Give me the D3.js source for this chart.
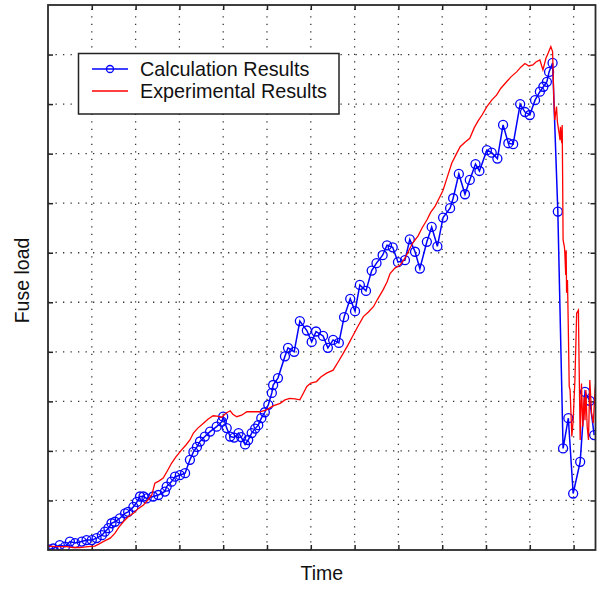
<!DOCTYPE html>
<html>
<head>
<meta charset="utf-8">
<script src="https://cdn.jsdelivr.net/npm/d3@7/dist/d3.min.js"></script>
<style>
  html, body { margin: 0; padding: 0; background: #fff; }
  svg { display: block; }
  text { font-family: "Liberation Sans", Arial, Helvetica, sans-serif; fill: #111; }
</style>
</head>
<body>
<svg id="chart" width="597" height="590"></svg>
<script>
// ---- data (arbitrary units; grid every 10) ----
const calcTime = [0.1,1.2,2.7,3.9,5.0,6.2,7.7,8.8,10.0,11.1,12.3,13.0,13.8,14.5,15.3,16.4,17.6,18.3,19.5,20.3,21.0,21.8,22.5,24.0,25.2,26.7,27.1,28.2,29.0,30.1,31.3,32.4,33.2,34.0,34.7,35.8,37.0,38.5,39.7,40.0,40.8,41.6,42.5,43.5,44.1,45.0,45.7,46.5,47.3,48.0,48.7,49.5,50.3,51.1,51.4,52.5,54.1,54.8,56.2,57.5,59.1,60.2,61.2,62.8,63.9,65.1,66.4,67.6,69.0,70.1,71.2,72.6,73.9,75.0,76.4,77.4,78.7,79.9,81.5,82.6,83.8,84.9,86.5,87.6,88.9,90.2,91.8,92.5,93.8,95.2,96.3,97.6,98.5,100.2,101.3,102.6,103.9,105.1,106.2,107.8,108.9,110.0,111.2,112.3,113.1,113.9,114.4,115.2,116.4,117.6,118.8,119.9,121.5,122.6,123.7,124.7];
const calcLoad = [0.1,0.3,1.0,0.7,1.7,1.4,1.7,2.0,2.0,2.4,3.0,3.7,4.4,5.4,5.7,6.4,7.4,7.7,8.7,9.7,10.8,10.8,10.4,10.8,11.1,11.8,12.8,13.8,14.8,15.1,15.5,18.2,19.8,20.8,21.9,22.9,23.9,24.9,25.9,26.9,24.6,22.9,22.7,23.6,22.8,21.3,22.2,23.6,24.5,25.2,26.6,27.8,29.3,31.7,33.3,34.7,39.1,40.8,40.0,46.2,44.3,42.0,44.1,43.2,40.8,42.4,41.8,47.0,50.7,48.2,53.5,52.3,56.4,57.9,59.5,61.5,61.1,58.1,58.5,62.7,60.2,56.8,62.2,65.2,61.3,67.1,69.0,71.0,75.9,71.8,74.7,77.9,76.5,80.7,80.2,79.0,85.8,82.1,81.9,90.0,88.4,87.8,90.8,92.5,93.5,94.5,96.5,98.3,68.3,20.5,26.6,11.4,17.8,31.9,30.1,23.2];

const expTime = [0,1.8,4.3,5.7,7.3,9.1,10.7,11.6,12.6,14.2,15.3,16.2,17.2,18.3,19.5,20.5,21.8,22.8,23.7,24.4,25.3,26.3,27.2,28.2,29.2,30.5,31.5,32.4,33.2,34.2,35.5,36.5,37.7,38.6,39.7,40.6,41.6,42.2,43.1,44.2,45.4,46.8,48.4,49.9,51.4,53.0,54.1,55.2,56.4,57.5,58.2,59.1,60.0,61.3,62.3,63.6,65.1,66.2,67.4,68.5,69.7,70.8,72.0,73.1,74.3,75.3,76.5,77.4,78.1,79.2,80.4,81.5,82.4,83.3,84.5,85.4,86.5,87.4,88.4,89.3,90.2,91.1,92.2,93.1,94.1,95.2,96.3,97.3,98.2,99.1,100.2,101.3,102.4,103.4,104.7,105.7,107.0,108.0,108.9,109.8,110.7,111.4,112.3,113.0,113.7,114.2,114.8,115.2,115.5,115.7,116.1,116.3,116.7,116.9,117.0,117.3,117.4,117.5,117.6,117.9,118.0,118.2,118.3,118.4,118.6,118.8,119.0,119.2,119.6,119.9,120.3,120.7,121.1,121.2,121.5,121.8,122.1,122.4,122.6,122.8,123.1,123.4,123.7,124.1,124.5,124.9,125.3];
const expLoad = [0.8,0.7,0.7,0.5,0.5,0.7,0.8,1.2,1.7,2.4,3.4,4.6,5.7,6.7,7.4,8.3,9.1,10.1,11.1,13.5,13.9,14.5,15.9,17.5,18.8,20.2,21.2,22.2,23.6,24.6,25.6,26.4,27.1,27.0,26.8,27.6,28.1,27.4,26.9,27.2,27.9,27.9,27.9,28.3,29.1,29.6,30.3,30.6,30.5,30.3,31.5,33.0,33.7,34.0,34.9,35.7,36.3,37.9,39.7,41.4,43.4,45.2,47.1,48.0,49.1,50.7,52.5,54.1,55.8,56.9,57.5,58.9,60.5,62.0,63.4,65.0,66.6,68.2,69.4,71.0,72.6,75.1,78.1,79.7,81.4,82.3,83.1,85.2,86.6,87.8,89.5,90.8,91.8,93.2,94.5,95.5,96.5,97.5,98.2,97.7,97.9,98.5,98.9,96.9,99.3,100.3,101.6,100.6,90.8,86.8,89.5,86.4,84.1,82.7,85.4,82.1,85.8,74.7,62.6,61.2,59.9,55.5,60.5,51.9,54.5,44.4,33.0,32.3,22.9,26.2,34.3,47.8,48.4,41.0,22.2,33.6,24.9,30.9,26.2,32.3,24.9,22.2,34.3,27.6,25.6,32.3,36.3];

const xTicks = [10,20,30,40,50,60,70,80,90,100,110,120];
const yTicks = [10,20,30,40,50,60,70,80,90,100];
const seriesNames = ["Calculation Results", "Experimental Results"];
const seriesColors = ["#0000ff", "#ff0000"];
const xLabel = "Time";
const yLabel = "Fuse load";

// ---- layout ----
const L = 48, R = 595.5, T = 5, B = 550;
const svg = d3.select("#chart");
const x = d3.scaleLinear().domain([0, 125]).range([L, R]);
const y = d3.scaleLinear().domain([0, 110]).range([B, T]);

const calc = calcTime.map((t, i) => ({ t, v: calcLoad[i] }));
const exp = expTime.map((t, i) => ({ t, v: expLoad[i] }));

svg.append("defs").append("clipPath").attr("id", "clip")
  .append("rect").attr("x", L).attr("y", T).attr("width", R - L).attr("height", B - T);

// grid
const grid = svg.append("g").attr("stroke", "#333").attr("stroke-width", 1.3)
  .attr("stroke-dasharray", "1.3 6.2");
grid.selectAll(".vg").data(xTicks).join("line")
  .attr("x1", d => x(d)).attr("x2", d => x(d)).attr("y1", B).attr("y2", T);
grid.selectAll(".hg").data(yTicks).join("line")
  .attr("y1", d => y(d)).attr("y2", d => y(d)).attr("x1", L).attr("x2", R);

// axes with inward ticks on all four sides
const tickLen = 5;
const axB = svg.append("g").attr("transform", `translate(0,${B})`)
  .call(d3.axisTop(x).tickValues(xTicks).tickSize(tickLen).tickFormat(""));
const axT = svg.append("g").attr("transform", `translate(0,${T})`)
  .call(d3.axisBottom(x).tickValues(xTicks).tickSize(tickLen).tickFormat(""));
const axL = svg.append("g").attr("transform", `translate(${L},0)`)
  .call(d3.axisRight(y).tickValues(yTicks).tickSize(tickLen).tickFormat(""));
const axRt = svg.append("g").attr("transform", `translate(${R},0)`)
  .call(d3.axisLeft(y).tickValues(yTicks).tickSize(tickLen).tickFormat(""));
[axB, axT, axL, axRt].forEach(a => {
  a.select(".domain").remove();
  a.selectAll(".tick line").attr("stroke", "#222").attr("stroke-width", 1.5);
});

// data
const plot = svg.append("g").attr("clip-path", "url(#clip)");
const line = d3.line().x(d => x(d.t)).y(d => y(d.v));
plot.append("path").datum(calc).attr("d", line)
  .attr("fill", "none").attr("stroke", seriesColors[0]).attr("stroke-width", 1.5);
plot.selectAll(".pt").data(calc).join("circle")
  .attr("cx", d => x(d.t)).attr("cy", d => y(d.v)).attr("r", 4.5)
  .attr("fill", "none").attr("stroke", seriesColors[0]).attr("stroke-width", 1.3);
plot.append("path").datum(exp).attr("d", line)
  .attr("fill", "none").attr("stroke", seriesColors[1]).attr("stroke-width", 1.3);

// box
svg.append("rect").attr("x", L).attr("y", T).attr("width", R - L).attr("height", B - T)
  .attr("fill", "none").attr("stroke", "#2a2a2a").attr("stroke-width", 1.8);

// legend
const lg = svg.append("g");
lg.append("rect").attr("x", 78.5).attr("y", 53.5).attr("width", 260.5).attr("height", 60.5)
  .attr("fill", "#fff").attr("stroke", "#222").attr("stroke-width", 1.5);
seriesNames.forEach((name, i) => {
  const cy = 69 + i * 22;
  lg.append("line").attr("x1", 92).attr("x2", 128).attr("y1", cy).attr("y2", cy)
    .attr("stroke", seriesColors[i]).attr("stroke-width", 1.5);
  if (i === 0) {
    lg.append("circle").attr("cx", 110).attr("cy", cy).attr("r", 3.5)
      .attr("fill", "none").attr("stroke", seriesColors[i]).attr("stroke-width", 1.3);
  }
  lg.append("text").attr("x", 140).attr("y", cy + 7).attr("font-size", 19.8).text(name);
});

// axis labels
svg.append("text").attr("x", (L + R) / 2).attr("y", 580).attr("text-anchor", "middle")
  .attr("font-size", 19.5).text(xLabel);
svg.append("text").attr("transform", `translate(29,${(T + B) / 2 + 3}) rotate(-90)`)
  .attr("text-anchor", "middle").attr("font-size", 19.5).text(yLabel);
</script>
</body>
</html>
